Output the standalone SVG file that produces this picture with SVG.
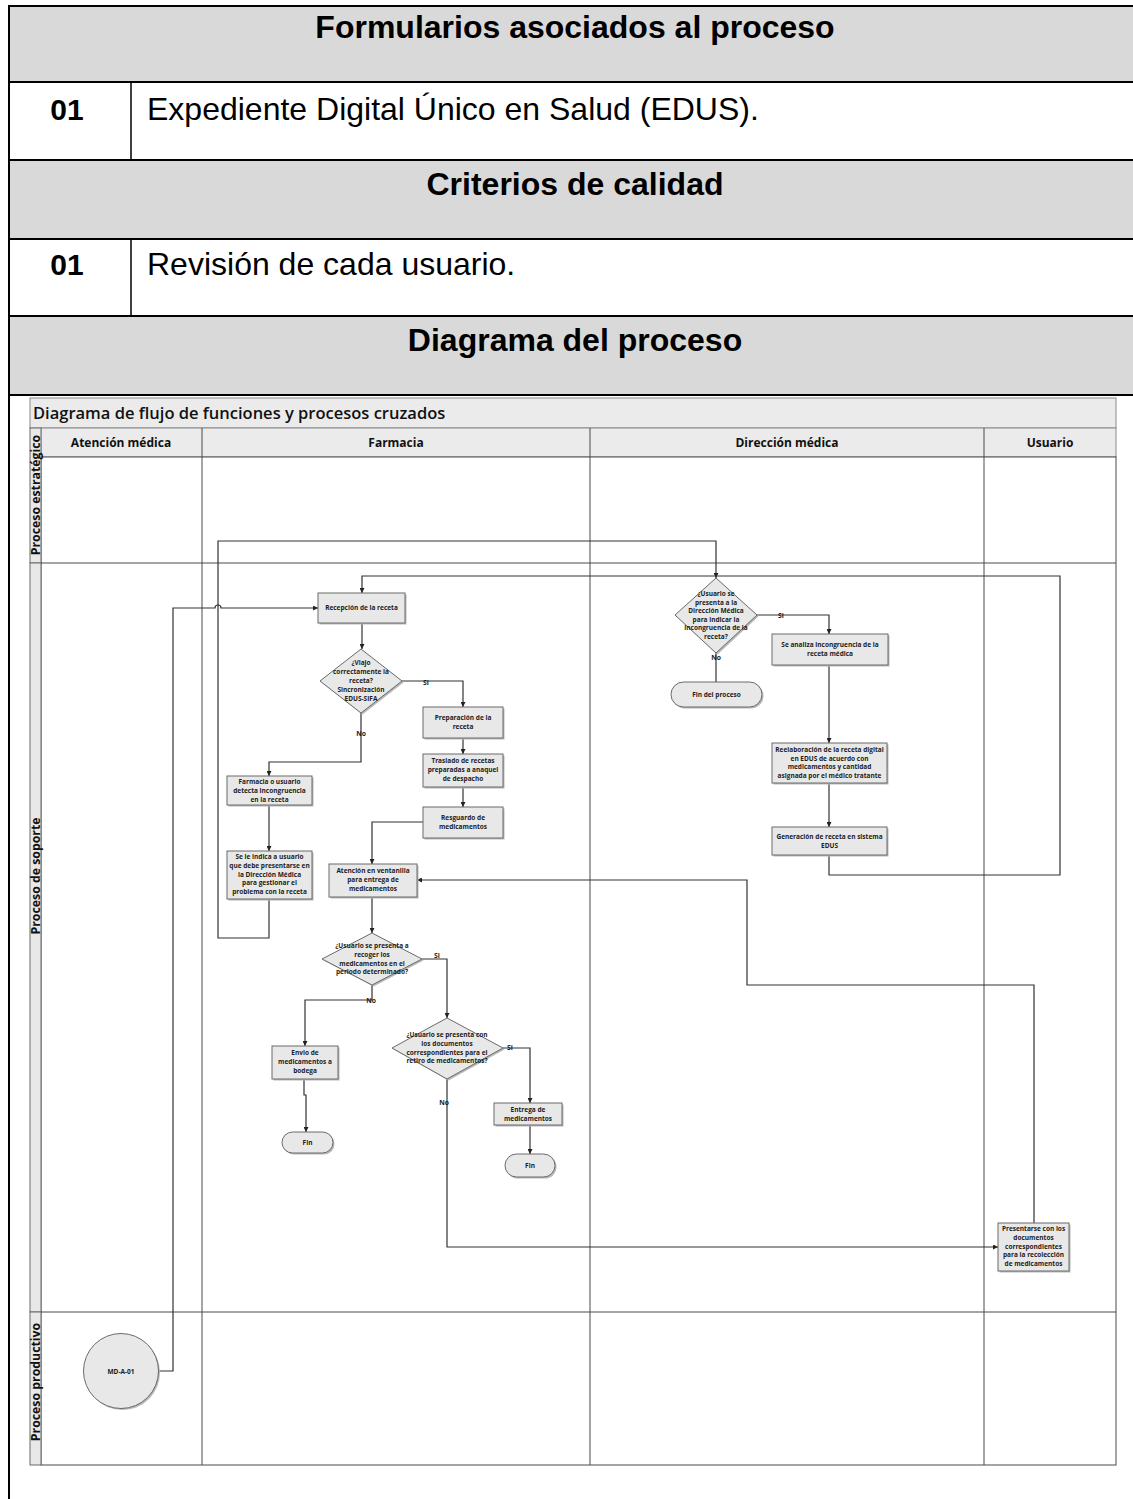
<svg xmlns="http://www.w3.org/2000/svg" width="1133" height="1499" viewBox="0 0 1133 1499">
<style>
  .tbl { stroke:#000; stroke-width:2; fill:none; }
  .hdr { fill:#d9d9d9; }
  .th { font-family:"Liberation Sans", Arial, sans-serif; font-weight:700; font-size:32px; fill:#000; text-anchor:middle; }
  .td { font-family:"Liberation Sans", Arial, sans-serif; font-size:32px; fill:#000; }
  .tn { font-family:"Liberation Sans", Arial, sans-serif; font-weight:700; font-size:30px; fill:#000; text-anchor:middle; }
  .band { fill:#e8e8e8; stroke:#6a6a6a; stroke-width:1; }
  .lane { fill:#fff; stroke:#4a4a4a; stroke-width:1; }
  .bar { fill:#ebebeb; stroke:#8a8a8a; stroke-width:1; }
  .ttl { font-family:"Open Sans", "Noto Sans", sans-serif; font-weight:600; font-size:16.5px; fill:#111; }
  .lh { font-family:"Open Sans", "Noto Sans", sans-serif; font-weight:700; font-size:12px; fill:#111; text-anchor:middle; }
  .ph { font-family:"Open Sans", "Noto Sans", sans-serif; font-weight:700; font-size:12.3px; fill:#111; text-anchor:middle; }
  .n { fill:#e8e8e8; stroke:#6a6a6a; stroke-width:1; }
  .sh { fill:#b8b8b8; }
  .t { font-family:"Open Sans", "Noto Sans", sans-serif; font-weight:700; font-size:6.5px; fill:#1c1c1c; text-anchor:middle; }
  .lb { font-family:"Open Sans", "Noto Sans", sans-serif; font-weight:700; font-size:6.8px; fill:#1c1c1c; text-anchor:middle; }
  .c { fill:none; stroke:#333; stroke-width:1.2; }
</style>
<defs>
  <marker id="arr" viewBox="0 0 10 10" refX="10" refY="5" markerWidth="5" markerHeight="5" markerUnits="userSpaceOnUse" orient="auto">
    <path d="M0,0 L10,5 L0,10 z" fill="#222"/>
  </marker>
</defs>

<rect width="1133" height="1499" fill="#fff"/>

<!-- document table -->
<g id="table">
  <rect class="hdr" x="9" y="6" width="1124" height="76"/>
  <rect class="hdr" x="9" y="160" width="1124" height="79"/>
  <rect class="hdr" x="9" y="316" width="1124" height="79"/>
  <path class="tbl" d="M9,6 H1133 M9,82 H1133 M9,160 H1133 M9,239 H1133 M9,316 H1133 M9,395 H1133 M9,5 V1499"/>
  <path stroke="#000" stroke-width="1.5" d="M131,82 V160 M131,239 V316"/>
  <text class="th" x="575" y="38">Formularios asociados al proceso</text>
  <text class="tn" x="67" y="120">01</text>
  <text class="td" x="147" y="120">Expediente Digital Único en Salud (EDUS).</text>
  <text class="th" x="575" y="195">Criterios de calidad</text>
  <text class="tn" x="67" y="275">01</text>
  <text class="td" x="147" y="275">Revisión de cada usuario.</text>
  <text class="th" x="575" y="351">Diagrama del proceso</text>
</g>

<!-- swimlane frame -->
<g id="frame">
  <rect class="bar" x="30" y="398" width="1086" height="30"/>
  <text class="ttl" x="33" y="419">Diagrama de flujo de funciones y procesos cruzados</text>
  <rect class="bar" x="41" y="428" width="1075" height="29"/>
  <rect class="lane" x="41" y="457" width="1075" height="1008"/>
  <rect class="band" x="30" y="428" width="11" height="135"/>
  <rect class="band" x="30" y="563" width="11" height="749"/>
  <rect class="band" x="30" y="1312" width="11" height="153"/>
  <path stroke="#4a4a4a" stroke-width="1" d="M202,428 V1465 M590,428 V1465 M984,428 V1465 M41,563 H1116 M41,1312 H1116"/>
  <text class="lh" x="121" y="446.5">Atención médica</text>
  <text class="lh" x="396" y="446.5">Farmacia</text>
  <text class="lh" x="787" y="446.5">Dirección médica</text>
  <text class="lh" x="1050" y="446.5">Usuario</text>
  <text class="ph" transform="translate(40,495) rotate(-90)">Proceso estratégico</text>
  <text class="ph" transform="translate(40,876) rotate(-90)">Proceso de soporte</text>
  <text class="ph" transform="translate(40,1382) rotate(-90)">Proceso productivo</text>
</g>

<!-- connectors -->
<g id="connectors">
  <path class="c" d="M159,1371 H173 V608 H215 A3,3 0 0 1 221,608 H318" marker-end="url(#arr)"/>
  <path class="c" d="M269,899 V938 H218 V541 H716 V578" marker-end="url(#arr)"/>
  <path class="c" d="M829,855 V875 H1060 V576 H362 V593" marker-end="url(#arr)"/>
  <path class="c" d="M362,623 V649" marker-end="url(#arr)"/>
  <path class="c" d="M402,681 H463 V707" marker-end="url(#arr)"/>
  <path class="c" d="M361,713 V762 H269 V776" marker-end="url(#arr)"/>
  <path class="c" d="M463,738 V754" marker-end="url(#arr)"/>
  <path class="c" d="M463,787 V807" marker-end="url(#arr)"/>
  <path class="c" d="M423,822 H372 V864" marker-end="url(#arr)"/>
  <path class="c" d="M269,805 V851" marker-end="url(#arr)"/>
  <path class="c" d="M372,897 V933" marker-end="url(#arr)"/>
  <path class="c" d="M422,959 H447 V1018" marker-end="url(#arr)"/>
  <path class="c" d="M372,985 V1000 H305 V1046" marker-end="url(#arr)"/>
  <path class="c" d="M304,1079 V1095 H306 V1132" marker-end="url(#arr)"/>
  <path class="c" d="M503,1048 H530 V1103" marker-end="url(#arr)"/>
  <path class="c" d="M530,1125 V1154" marker-end="url(#arr)"/>
  <path class="c" d="M447,1079 V1247 H998" marker-end="url(#arr)"/>
  <path class="c" d="M1034,1223 V985 H747 V880 H417" marker-end="url(#arr)"/>
  <path class="c" d="M757,615 H829 V634" marker-end="url(#arr)"/>
  <path class="c" d="M716,653 V682"/>
  <path class="c" d="M829,665 V743" marker-end="url(#arr)"/>
  <path class="c" d="M829,783 V827" marker-end="url(#arr)"/>
  <text class="lb" x="426" y="685">Si</text>
  <text class="lb" x="361" y="736">No</text>
  <text class="lb" x="781" y="618">Si</text>
  <text class="lb" x="716" y="660">No</text>
  <text class="lb" x="437" y="958">Si</text>
  <text class="lb" x="371" y="1003">No</text>
  <text class="lb" x="510" y="1050">Si</text>
  <text class="lb" x="444" y="1105">No</text>
</g>

<g id="recepcion">
  <rect class="sh" x="319.5" y="594.5" width="87" height="30"/>
  <rect class="n" x="318" y="593" width="87" height="30"/>
  <text class="t" x="361.5" y="610.3">Recepción de la receta</text>
</g>

<g id="viajo">
  <polygon class="sh" points="362.5,650.5 403.5,682.5 362.5,714.5 321.5,682.5"/>
  <polygon class="n" points="361,649 402,681 361,713 320,681"/>
  <text class="t" x="361" y="665"><tspan x="361">¿Viajo</tspan><tspan x="361" dy="9">correctamente la</tspan><tspan x="361" dy="9">receta?</tspan><tspan x="361" dy="9">Sincronización</tspan><tspan x="361" dy="9">EDUS-SIFA</tspan></text>
</g>

<g id="preparacion">
  <rect class="sh" x="424.5" y="708.5" width="80" height="31"/>
  <rect class="n" x="423" y="707" width="80" height="31"/>
  <text class="t" x="463" y="720"><tspan x="463">Preparación de la</tspan><tspan x="463" dy="8.8">receta</tspan></text>
</g>

<g id="traslado">
  <rect class="sh" x="424.5" y="755.5" width="80" height="33"/>
  <rect class="n" x="423" y="754" width="80" height="33"/>
  <text class="t" x="463" y="763"><tspan x="463">Traslado de recetas</tspan><tspan x="463" dy="8.8">preparadas a anaquel</tspan><tspan x="463" dy="8.8">de despacho</tspan></text>
</g>

<g id="resguardo">
  <rect class="sh" x="424.5" y="808.5" width="80" height="31"/>
  <rect class="n" x="423" y="807" width="80" height="31"/>
  <text class="t" x="463" y="820"><tspan x="463">Resguardo de</tspan><tspan x="463" dy="8.8">medicamentos</tspan></text>
</g>

<g id="detecta">
  <rect class="sh" x="228.5" y="777.5" width="85" height="29"/>
  <rect class="n" x="227" y="776" width="85" height="29"/>
  <text class="t" x="269.5" y="784"><tspan x="269.5">Farmacia o usuario</tspan><tspan x="269.5" dy="8.8">detecta incongruencia</tspan><tspan x="269.5" dy="8.8">en la receta</tspan></text>
</g>

<g id="indica">
  <rect class="sh" x="228.5" y="852.5" width="85" height="48"/>
  <rect class="n" x="227" y="851" width="85" height="48"/>
  <text class="t" x="269.5" y="859"><tspan x="269.5">Se le indica a usuario</tspan><tspan x="269.5" dy="8.8">que debe presentarse en</tspan><tspan x="269.5" dy="8.8">la Dirección Médica</tspan><tspan x="269.5" dy="8.8">para gestionar el</tspan><tspan x="269.5" dy="8.8">problema con la receta</tspan></text>
</g>

<g id="ventanilla">
  <rect class="sh" x="330.5" y="865.5" width="88" height="33"/>
  <rect class="n" x="329" y="864" width="88" height="33"/>
  <text class="t" x="373" y="873"><tspan x="373">Atención en ventanilla</tspan><tspan x="373" dy="8.8">para entrega de</tspan><tspan x="373" dy="8.8">medicamentos</tspan></text>
</g>

<g id="recoger">
  <polygon class="sh" points="373.5,934.5 423.5,960.5 373.5,986.5 323.5,960.5"/>
  <polygon class="n" points="372,933 422,959 372,985 322,959"/>
  <text class="t" x="372" y="948"><tspan x="372">¿Usuario se presenta a</tspan><tspan x="372" dy="8.8">recoger los</tspan><tspan x="372" dy="8.8">medicamentos en el</tspan><tspan x="372" dy="8.8">periodo determinado?</tspan></text>
</g>

<g id="documentos">
  <polygon class="sh" points="448.5,1019.5 504.5,1049.5 448.5,1080.5 393.5,1049.5"/>
  <polygon class="n" points="447,1018 503,1048 447,1079 392,1048"/>
  <text class="t" x="447" y="1037"><tspan x="447">¿Usuario se presenta con</tspan><tspan x="447" dy="8.8">los documentos</tspan><tspan x="447" dy="8.8">correspondientes para el</tspan><tspan x="447" dy="8.8">retiro de medicamentos?</tspan></text>
</g>

<g id="bodega">
  <rect class="sh" x="273.5" y="1047.5" width="66" height="33"/>
  <rect class="n" x="272" y="1046" width="66" height="33"/>
  <text class="t" x="305" y="1055"><tspan x="305">Envio de</tspan><tspan x="305" dy="8.8">medicamentos a</tspan><tspan x="305" dy="8.8">bodega</tspan></text>
</g>

<g id="fin1">
  <rect class="sh" x="283.5" y="1133.5" width="51" height="21" rx="10.5"/>
  <rect class="n" x="282" y="1132" width="51" height="21" rx="10.5"/>
  <text class="t" x="307.5" y="1144.8">Fin</text>
</g>

<g id="entrega">
  <rect class="sh" x="495.5" y="1104.5" width="68" height="22"/>
  <rect class="n" x="494" y="1103" width="68" height="22"/>
  <text class="t" x="528" y="1112"><tspan x="528">Entrega de</tspan><tspan x="528" dy="8.8">medicamentos</tspan></text>
</g>

<g id="fin2">
  <rect class="sh" x="506.5" y="1155.5" width="50" height="23" rx="11.5"/>
  <rect class="n" x="505" y="1154" width="50" height="23" rx="11.5"/>
  <text class="t" x="530" y="1167.8">Fin</text>
</g>

<g id="presenta-dm">
  <polygon class="sh" points="717.5,579.5 758.5,616.5 717.5,654.5 676.5,616.5"/>
  <polygon class="n" points="716,578 757,615 716,653 675,615"/>
  <text class="t" x="716" y="596"><tspan x="716">¿Usuario se</tspan><tspan x="716" dy="8.5">presenta a la</tspan><tspan x="716" dy="8.5">Dirección Médica</tspan><tspan x="716" dy="8.5">para indicar la</tspan><tspan x="716" dy="8.5">incongruencia de la</tspan><tspan x="716" dy="8.5">receta?</tspan></text>
</g>

<g id="analiza">
  <rect class="sh" x="773.5" y="635.5" width="116" height="31"/>
  <rect class="n" x="772" y="634" width="116" height="31"/>
  <text class="t" x="830" y="647"><tspan x="830">Se analiza incongruencia de la</tspan><tspan x="830" dy="8.8">receta médica</tspan></text>
</g>

<g id="fin-proceso">
  <rect class="sh" x="672.5" y="683.5" width="91" height="25" rx="12.5"/>
  <rect class="n" x="671" y="682" width="91" height="25" rx="12.5"/>
  <text class="t" x="716.5" y="696.8">Fin del proceso</text>
</g>

<g id="reelaboracion">
  <rect class="sh" x="773.5" y="744.5" width="115" height="40"/>
  <rect class="n" x="772" y="743" width="115" height="40"/>
  <text class="t" x="829.5" y="752"><tspan x="829.5">Reelaboración de la receta digital</tspan><tspan x="829.5" dy="8.6">en EDUS de acuerdo con</tspan><tspan x="829.5" dy="8.6">medicamentos y cantidad</tspan><tspan x="829.5" dy="8.6">asignada por el médico tratante</tspan></text>
</g>

<g id="generacion">
  <rect class="sh" x="773.5" y="828.5" width="115" height="28"/>
  <rect class="n" x="772" y="827" width="115" height="28"/>
  <text class="t" x="829.5" y="839"><tspan x="829.5">Generación de receta en sistema</tspan><tspan x="829.5" dy="8.8">EDUS</tspan></text>
</g>

<g id="presentarse">
  <rect class="sh" x="999.5" y="1224.5" width="71" height="48"/>
  <rect class="n" x="998" y="1223" width="71" height="48"/>
  <text class="t" x="1033.5" y="1231"><tspan x="1033.5">Presentarse con los</tspan><tspan x="1033.5" dy="8.8">documentos</tspan><tspan x="1033.5" dy="8.8">correspondientes</tspan><tspan x="1033.5" dy="8.8">para la recolección</tspan><tspan x="1033.5" dy="8.8">de medicamentos</tspan></text>
</g>

<g id="md-a-01">
  <circle class="sh" cx="122.5" cy="1372.5" r="37.5"/>
  <circle class="n" cx="121" cy="1371" r="37.5"/>
  <text class="t" x="121" y="1373.5">MD-A-01</text>
</g>
</svg>
